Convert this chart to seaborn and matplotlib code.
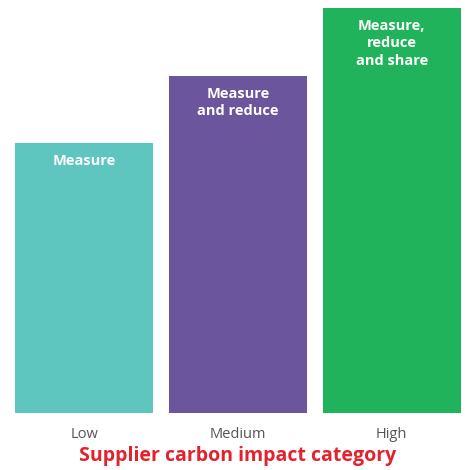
import matplotlib
matplotlib.use("Agg")
import matplotlib.pyplot as plt
import seaborn as sns
import pandas as pd

categories = ["Low", "Medium", "High"]
values = [2.0, 2.5, 3.0]
bar_labels = ["Measure", "Measure\nand reduce", "Measure,\nreduce\nand share"]
colors = ["#5EC5BF", "#6B559C", "#21B35B"]

sns.set_theme(style="white")
plt.rcParams["font.family"] = ["Open Sans", "DejaVu Sans"]

df = pd.DataFrame({"category": categories, "value": values})

fig = plt.figure(figsize=(4.65, 4.70), dpi=100)
ax = fig.add_axes([15 / 465, 57 / 470, 446 / 465, 405 / 470])

sns.barplot(data=df, x="category", y="value", hue="category",
            palette=colors, width=0.9, saturation=1, legend=False,
            linewidth=0, ax=ax)

ax.set_xlim(-0.45, 2.45)
ax.set_ylim(0, 3.0)
sns.despine(ax=ax, left=True, bottom=True)
ax.set_yticks([])
ax.set_ylabel("")
ax.tick_params(axis="x", length=0, pad=10, labelsize=10.5, labelcolor="#555555")
ax.set_xlabel("Supplier carbon impact category", color="#E3222E",
              fontsize=14, fontweight="bold", labelpad=3)

for i, (v, lab) in enumerate(zip(values, bar_labels)):
    ax.annotate(lab, xy=(i, v), xytext=(0, -8), textcoords="offset points",
                ha="center", va="top", color="white", fontsize=10.5,
                fontweight="bold", linespacing=1.3)

fig.savefig("out.png", dpi=100)
